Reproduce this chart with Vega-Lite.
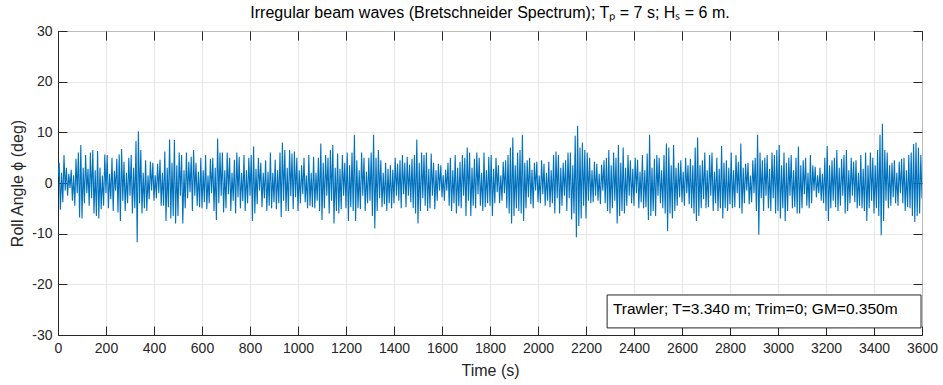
{
  "$schema": "https://vega.github.io/schema/vega-lite/v6.json",
  "width": 864,
  "height": 304,
  "autosize": "none",
  "padding": {"left": 58, "top": 31, "right": 21, "bottom": 50},
  "background": "white",
  "title": {
    "text": "Irregular beam waves (Bretschneider Spectrum); Tₚ = 7 s; Hₛ = 6 m.",
    "font": "Liberation Sans",
    "fontSize": 16,
    "fontWeight": "normal",
    "color": "#000000",
    "anchor": "middle",
    "offset": 3
  },
  "config": {
    "view": {"stroke": "#262626", "strokeWidth": 1},
    "axis": {
      "labelFont": "Liberation Sans",
      "titleFont": "Liberation Sans",
      "labelFontSize": 14,
      "titleFontSize": 16,
      "titleFontWeight": "normal",
      "labelColor": "#262626",
      "titleColor": "#262626",
      "domainColor": "#262626",
      "tickColor": "#262626",
      "gridColor": "#e2e2e2",
      "gridWidth": 0.8,
      "labelFlush": false,
      "labelOverlap": false
    }
  },
  "layer": [
    {
      "layer": [
        {
          "data": {"name": "roll", "values": [
{"t":0,"r":1.2},{"t":5,"r":4.0},{"t":10,"r":-5.3},{"t":15,"r":2.0},{"t":20,"r":-3.8},{"t":25,"r":5.5},{"t":30,"r":-1.5},{"t":35,"r":3.0},{"t":40,"r":-2.5},{"t":45,"r":1.8},{"t":50,"r":-1.0},{"t":55,"r":2.6},{"t":60,"r":-3.5},{"t":65,"r":1.5},{"t":70,"r":-4.5},{"t":75,"r":4.8},{"t":80,"r":-2.0},{"t":85,"r":6.0},{"t":90,"r":-6.8},{"t":95,"r":7.5},
{"t":100,"r":-7.0},{"t":105,"r":3.0},{"t":110,"r":-4.0},{"t":115,"r":5.5},{"t":120,"r":-2.0},{"t":125,"r":2.8},{"t":130,"r":-4.5},{"t":135,"r":6.0},{"t":140,"r":-3.0},{"t":145,"r":6.5},{"t":150,"r":-6.0},{"t":155,"r":2.5},{"t":160,"r":-6.5},{"t":165,"r":6.3},{"t":170,"r":-7.0},{"t":175,"r":3.0},{"t":180,"r":-5.2},{"t":185,"r":1.5},{"t":190,"r":-4.5},{"t":195,"r":5.6},
{"t":200,"r":-2.0},{"t":205,"r":5.5},{"t":210,"r":-5.0},{"t":215,"r":1.8},{"t":220,"r":-3.2},{"t":225,"r":5.0},{"t":230,"r":-5.5},{"t":235,"r":2.4},{"t":240,"r":-1.5},{"t":245,"r":4.8},{"t":250,"r":-5.8},{"t":255,"r":5.6},{"t":260,"r":-7.5},{"t":265,"r":6.7},{"t":270,"r":-3.5},{"t":275,"r":4.2},{"t":280,"r":-5.5},{"t":285,"r":2.0},{"t":290,"r":-4.0},{"t":295,"r":5.0},
{"t":300,"r":-2.5},{"t":305,"r":5.5},{"t":310,"r":-6.0},{"t":315,"r":3.0},{"t":320,"r":-5.0},{"t":325,"r":8.3},{"t":330,"r":-11.7},{"t":335,"r":10.2},{"t":340,"r":-4.0},{"t":345,"r":6.5},{"t":350,"r":-6.0},{"t":355,"r":2.0},{"t":360,"r":-5.0},{"t":365,"r":4.5},{"t":370,"r":-5.5},{"t":375,"r":1.5},{"t":380,"r":-3.2},{"t":385,"r":4.2},{"t":390,"r":-1.5},{"t":395,"r":4.0},
{"t":400,"r":-3.5},{"t":405,"r":1.5},{"t":410,"r":-3.0},{"t":415,"r":3.8},{"t":420,"r":-2.0},{"t":425,"r":4.6},{"t":430,"r":-4.5},{"t":435,"r":2.0},{"t":440,"r":-4.5},{"t":445,"r":6.2},{"t":450,"r":-7.5},{"t":455,"r":3.0},{"t":460,"r":-4.8},{"t":465,"r":8.6},{"t":470,"r":-7.0},{"t":475,"r":4.0},{"t":480,"r":-6.5},{"t":485,"r":8.5},{"t":490,"r":-8.0},{"t":495,"r":3.5},
{"t":500,"r":-6.5},{"t":505,"r":6.0},{"t":510,"r":-2.5},{"t":515,"r":5.5},{"t":520,"r":-8.0},{"t":525,"r":2.5},{"t":530,"r":-5.0},{"t":535,"r":6.0},{"t":540,"r":-3.0},{"t":545,"r":4.2},{"t":550,"r":-1.8},{"t":555,"r":5.2},{"t":560,"r":-5.5},{"t":565,"r":6.5},{"t":570,"r":-2.5},{"t":575,"r":4.0},{"t":580,"r":-4.5},{"t":585,"r":2.2},{"t":590,"r":-4.8},{"t":595,"r":5.0},
{"t":600,"r":-5.0},{"t":605,"r":2.5},{"t":610,"r":-3.8},{"t":615,"r":5.5},{"t":620,"r":-5.2},{"t":625,"r":1.5},{"t":630,"r":-4.0},{"t":635,"r":4.8},{"t":640,"r":-2.0},{"t":645,"r":5.0},{"t":650,"r":-5.5},{"t":655,"r":3.0},{"t":660,"r":-7.3},{"t":665,"r":8.8},{"t":670,"r":-4.0},{"t":675,"r":6.0},{"t":680,"r":-2.5},{"t":685,"r":6.0},{"t":690,"r":-5.8},{"t":695,"r":2.5},
{"t":700,"r":-5.0},{"t":705,"r":6.0},{"t":710,"r":-2.2},{"t":715,"r":5.0},{"t":720,"r":-5.5},{"t":725,"r":2.0},{"t":730,"r":-3.5},{"t":735,"r":4.6},{"t":740,"r":-6.0},{"t":745,"r":6.0},{"t":750,"r":-2.8},{"t":755,"r":5.2},{"t":760,"r":-5.0},{"t":765,"r":2.0},{"t":770,"r":-3.6},{"t":775,"r":5.5},{"t":780,"r":-5.5},{"t":785,"r":2.5},{"t":790,"r":-4.0},{"t":795,"r":5.0},
{"t":800,"r":-2.5},{"t":805,"r":5.5},{"t":810,"r":-7.5},{"t":815,"r":7.2},{"t":820,"r":-6.0},{"t":825,"r":2.8},{"t":830,"r":-4.2},{"t":835,"r":5.0},{"t":840,"r":-1.5},{"t":845,"r":4.0},{"t":850,"r":-4.8},{"t":855,"r":2.0},{"t":860,"r":-3.0},{"t":865,"r":4.5},{"t":870,"r":-5.5},{"t":875,"r":2.2},{"t":880,"r":-4.5},{"t":885,"r":6.0},{"t":890,"r":-5.0},{"t":895,"r":2.0},
{"t":900,"r":-3.8},{"t":905,"r":4.6},{"t":910,"r":-5.2},{"t":915,"r":2.5},{"t":920,"r":-4.0},{"t":925,"r":6.0},{"t":930,"r":-6.7},{"t":935,"r":8.0},{"t":940,"r":-3.5},{"t":945,"r":6.5},{"t":950,"r":-5.5},{"t":955,"r":3.0},{"t":960,"r":-5.5},{"t":965,"r":6.5},{"t":970,"r":-2.6},{"t":975,"r":5.8},{"t":980,"r":-5.2},{"t":985,"r":6.2},{"t":990,"r":-2.8},{"t":995,"r":5.0},
{"t":1000,"r":-5.5},{"t":1005,"r":2.5},{"t":1010,"r":-4.0},{"t":1015,"r":3.5},{"t":1020,"r":-2.2},{"t":1025,"r":5.0},{"t":1030,"r":-3.8},{"t":1035,"r":1.5},{"t":1040,"r":-5.0},{"t":1045,"r":5.5},{"t":1050,"r":-4.5},{"t":1055,"r":2.0},{"t":1060,"r":-4.8},{"t":1065,"r":5.2},{"t":1070,"r":-5.0},{"t":1075,"r":2.0},{"t":1080,"r":-3.5},{"t":1085,"r":5.0},{"t":1090,"r":-5.5},{"t":1095,"r":7.8},
{"t":1100,"r":-7.3},{"t":1105,"r":4.0},{"t":1110,"r":-5.0},{"t":1115,"r":5.5},{"t":1120,"r":-2.5},{"t":1125,"r":5.0},{"t":1130,"r":-6.0},{"t":1135,"r":6.5},{"t":1140,"r":-3.5},{"t":1145,"r":7.5},{"t":1150,"r":-8.0},{"t":1155,"r":3.0},{"t":1160,"r":-5.5},{"t":1165,"r":5.8},{"t":1170,"r":-6.0},{"t":1175,"r":2.8},{"t":1180,"r":-5.2},{"t":1185,"r":5.5},{"t":1190,"r":-2.5},{"t":1195,"r":4.0},
{"t":1200,"r":-5.0},{"t":1205,"r":6.0},{"t":1210,"r":-7.5},{"t":1215,"r":3.5},{"t":1220,"r":-4.8},{"t":1225,"r":6.0},{"t":1230,"r":-5.5},{"t":1235,"r":9.5},{"t":1240,"r":-7.5},{"t":1245,"r":4.5},{"t":1250,"r":-5.0},{"t":1255,"r":2.5},{"t":1260,"r":-5.2},{"t":1265,"r":6.0},{"t":1270,"r":-2.5},{"t":1275,"r":5.0},{"t":1280,"r":-5.5},{"t":1285,"r":2.2},{"t":1290,"r":-4.0},{"t":1295,"r":5.0},
{"t":1300,"r":-3.5},{"t":1305,"r":6.0},{"t":1310,"r":-6.5},{"t":1315,"r":9.5},{"t":1320,"r":-9.0},{"t":1325,"r":5.0},{"t":1330,"r":-5.5},{"t":1335,"r":6.5},{"t":1340,"r":-3.0},{"t":1345,"r":4.5},{"t":1350,"r":-4.8},{"t":1355,"r":2.0},{"t":1360,"r":-4.2},{"t":1365,"r":4.0},{"t":1370,"r":-5.5},{"t":1375,"r":2.8},{"t":1380,"r":-4.0},{"t":1385,"r":3.5},{"t":1390,"r":-5.0},{"t":1395,"r":2.6},
{"t":1400,"r":-4.0},{"t":1405,"r":5.0},{"t":1410,"r":-2.5},{"t":1415,"r":3.8},{"t":1420,"r":-3.5},{"t":1425,"r":4.5},{"t":1430,"r":-5.0},{"t":1435,"r":5.5},{"t":1440,"r":-2.2},{"t":1445,"r":4.0},{"t":1450,"r":-4.8},{"t":1455,"r":5.2},{"t":1460,"r":-2.5},{"t":1465,"r":3.6},{"t":1470,"r":-3.8},{"t":1475,"r":4.8},{"t":1480,"r":-5.0},{"t":1485,"r":5.5},{"t":1490,"r":-6.0},{"t":1495,"r":8.6},
{"t":1500,"r":-8.0},{"t":1505,"r":4.0},{"t":1510,"r":-5.5},{"t":1515,"r":6.0},{"t":1520,"r":-3.0},{"t":1525,"r":5.5},{"t":1530,"r":-4.5},{"t":1535,"r":6.0},{"t":1540,"r":-5.5},{"t":1545,"r":2.8},{"t":1550,"r":-5.0},{"t":1555,"r":5.8},{"t":1560,"r":-2.5},{"t":1565,"r":4.0},{"t":1570,"r":-5.2},{"t":1575,"r":2.5},{"t":1580,"r":-3.5},{"t":1585,"r":3.8},{"t":1590,"r":-1.5},{"t":1595,"r":3.5},
{"t":1600,"r":-2.8},{"t":1605,"r":1.5},{"t":1610,"r":-3.5},{"t":1615,"r":2.6},{"t":1620,"r":-1.5},{"t":1625,"r":4.0},{"t":1630,"r":-4.5},{"t":1635,"r":5.0},{"t":1640,"r":-5.5},{"t":1645,"r":2.5},{"t":1650,"r":-4.0},{"t":1655,"r":5.5},{"t":1660,"r":-6.0},{"t":1665,"r":3.0},{"t":1670,"r":-4.6},{"t":1675,"r":4.2},{"t":1680,"r":-5.0},{"t":1685,"r":5.5},{"t":1690,"r":-2.5},{"t":1695,"r":5.0},
{"t":1700,"r":-6.5},{"t":1705,"r":7.0},{"t":1710,"r":-3.5},{"t":1715,"r":6.0},{"t":1720,"r":-6.5},{"t":1725,"r":3.0},{"t":1730,"r":-4.5},{"t":1735,"r":4.8},{"t":1740,"r":-5.0},{"t":1745,"r":6.0},{"t":1750,"r":-2.2},{"t":1755,"r":5.0},{"t":1760,"r":-4.5},{"t":1765,"r":2.0},{"t":1770,"r":-5.5},{"t":1775,"r":6.0},{"t":1780,"r":-4.8},{"t":1785,"r":2.5},{"t":1790,"r":-4.0},{"t":1795,"r":5.2},
{"t":1800,"r":-4.5},{"t":1805,"r":5.5},{"t":1810,"r":-6.5},{"t":1815,"r":2.8},{"t":1820,"r":-4.0},{"t":1825,"r":5.0},{"t":1830,"r":-1.8},{"t":1835,"r":3.5},{"t":1840,"r":-4.0},{"t":1845,"r":1.5},{"t":1850,"r":-3.5},{"t":1855,"r":4.2},{"t":1860,"r":-2.0},{"t":1865,"r":4.5},{"t":1870,"r":-5.0},{"t":1875,"r":5.5},{"t":1880,"r":-6.0},{"t":1885,"r":7.0},{"t":1890,"r":-8.0},{"t":1895,"r":9.0},
{"t":1900,"r":-6.5},{"t":1905,"r":3.5},{"t":1910,"r":-5.0},{"t":1915,"r":6.0},{"t":1920,"r":-5.5},{"t":1925,"r":6.5},{"t":1930,"r":-6.0},{"t":1935,"r":9.5},{"t":1940,"r":-7.5},{"t":1945,"r":4.0},{"t":1950,"r":-5.0},{"t":1955,"r":4.5},{"t":1960,"r":-2.8},{"t":1965,"r":5.0},{"t":1970,"r":-4.2},{"t":1975,"r":2.6},{"t":1980,"r":-5.0},{"t":1985,"r":4.0},{"t":1990,"r":-1.5},{"t":1995,"r":4.2},
{"t":2000,"r":-3.8},{"t":2005,"r":1.5},{"t":2010,"r":-4.0},{"t":2015,"r":4.5},{"t":2020,"r":-2.2},{"t":2025,"r":3.8},{"t":2030,"r":-4.5},{"t":2035,"r":2.0},{"t":2040,"r":-3.5},{"t":2045,"r":4.2},{"t":2050,"r":-4.8},{"t":2055,"r":2.5},{"t":2060,"r":-4.0},{"t":2065,"r":5.5},{"t":2070,"r":-6.0},{"t":2075,"r":6.2},{"t":2080,"r":-3.0},{"t":2085,"r":5.5},{"t":2090,"r":-6.0},{"t":2095,"r":3.0},
{"t":2100,"r":-4.5},{"t":2105,"r":4.0},{"t":2110,"r":-2.5},{"t":2115,"r":4.5},{"t":2120,"r":-5.5},{"t":2125,"r":6.0},{"t":2130,"r":-3.0},{"t":2135,"r":6.0},{"t":2140,"r":-7.2},{"t":2145,"r":3.5},{"t":2150,"r":-6.0},{"t":2155,"r":9.3},{"t":2160,"r":-10.7},{"t":2165,"r":11.3},{"t":2170,"r":-8.5},{"t":2175,"r":7.0},{"t":2180,"r":-7.0},{"t":2185,"r":8.0},{"t":2190,"r":-4.5},{"t":2195,"r":6.5},
{"t":2200,"r":-7.0},{"t":2205,"r":6.0},{"t":2210,"r":-3.5},{"t":2215,"r":5.0},{"t":2220,"r":-4.0},{"t":2225,"r":2.5},{"t":2230,"r":-3.8},{"t":2235,"r":4.2},{"t":2240,"r":-2.5},{"t":2245,"r":3.8},{"t":2250,"r":-3.5},{"t":2255,"r":1.8},{"t":2260,"r":-4.2},{"t":2265,"r":3.6},{"t":2270,"r":-1.5},{"t":2275,"r":4.5},{"t":2280,"r":-4.0},{"t":2285,"r":5.0},{"t":2290,"r":-5.5},{"t":2295,"r":6.5},
{"t":2300,"r":-6.0},{"t":2305,"r":3.5},{"t":2310,"r":-5.0},{"t":2315,"r":6.0},{"t":2320,"r":-3.5},{"t":2325,"r":5.0},{"t":2330,"r":-8.0},{"t":2335,"r":7.5},{"t":2340,"r":-6.5},{"t":2345,"r":4.0},{"t":2350,"r":-5.5},{"t":2355,"r":7.0},{"t":2360,"r":-6.0},{"t":2365,"r":3.0},{"t":2370,"r":-4.5},{"t":2375,"r":5.5},{"t":2380,"r":-2.5},{"t":2385,"r":4.5},{"t":2390,"r":-4.0},{"t":2395,"r":2.8},
{"t":2400,"r":-4.5},{"t":2405,"r":5.0},{"t":2410,"r":-2.0},{"t":2415,"r":4.6},{"t":2420,"r":-5.0},{"t":2425,"r":2.2},{"t":2430,"r":-3.8},{"t":2435,"r":5.5},{"t":2440,"r":-5.0},{"t":2445,"r":2.5},{"t":2450,"r":-4.8},{"t":2455,"r":5.8},{"t":2460,"r":-7.3},{"t":2465,"r":9.5},{"t":2470,"r":-6.5},{"t":2475,"r":3.0},{"t":2480,"r":-5.5},{"t":2485,"r":4.8},{"t":2490,"r":-6.5},{"t":2495,"r":5.5},
{"t":2500,"r":-2.5},{"t":2505,"r":5.0},{"t":2510,"r":-4.0},{"t":2515,"r":2.5},{"t":2520,"r":-5.0},{"t":2525,"r":5.5},{"t":2530,"r":-6.0},{"t":2535,"r":7.8},{"t":2540,"r":-9.5},{"t":2545,"r":7.0},{"t":2550,"r":-6.0},{"t":2555,"r":3.5},{"t":2560,"r":-7.0},{"t":2565,"r":7.5},{"t":2570,"r":-5.5},{"t":2575,"r":3.0},{"t":2580,"r":-4.5},{"t":2585,"r":4.0},{"t":2590,"r":-2.8},{"t":2595,"r":4.5},
{"t":2600,"r":-3.8},{"t":2605,"r":2.2},{"t":2610,"r":-4.5},{"t":2615,"r":5.0},{"t":2620,"r":-2.0},{"t":2625,"r":3.5},{"t":2630,"r":-4.2},{"t":2635,"r":4.8},{"t":2640,"r":-5.0},{"t":2645,"r":3.5},{"t":2650,"r":-6.0},{"t":2655,"r":7.0},{"t":2660,"r":-7.5},{"t":2665,"r":9.0},{"t":2670,"r":-6.5},{"t":2675,"r":3.5},{"t":2680,"r":-5.0},{"t":2685,"r":4.5},{"t":2690,"r":-3.2},{"t":2695,"r":6.0},
{"t":2700,"r":-5.0},{"t":2705,"r":2.5},{"t":2710,"r":-4.8},{"t":2715,"r":5.5},{"t":2720,"r":-2.5},{"t":2725,"r":6.0},{"t":2730,"r":-5.5},{"t":2735,"r":2.2},{"t":2740,"r":-4.0},{"t":2745,"r":5.0},{"t":2750,"r":-5.5},{"t":2755,"r":2.8},{"t":2760,"r":-5.0},{"t":2765,"r":7.3},{"t":2770,"r":-7.0},{"t":2775,"r":4.0},{"t":2780,"r":-5.0},{"t":2785,"r":4.5},{"t":2790,"r":-5.5},{"t":2795,"r":3.0},
{"t":2800,"r":-4.2},{"t":2805,"r":6.0},{"t":2810,"r":-5.0},{"t":2815,"r":2.5},{"t":2820,"r":-4.8},{"t":2825,"r":5.5},{"t":2830,"r":-2.0},{"t":2835,"r":4.2},{"t":2840,"r":-5.0},{"t":2845,"r":7.8},{"t":2850,"r":-6.0},{"t":2855,"r":3.0},{"t":2860,"r":-4.0},{"t":2865,"r":3.8},{"t":2870,"r":-1.5},{"t":2875,"r":4.0},{"t":2880,"r":-4.2},{"t":2885,"r":1.5},{"t":2890,"r":-3.8},{"t":2895,"r":4.5},
{"t":2900,"r":-2.0},{"t":2905,"r":5.0},{"t":2910,"r":-5.5},{"t":2915,"r":9.5},{"t":2920,"r":-10.2},{"t":2925,"r":6.0},{"t":2930,"r":-3.0},{"t":2935,"r":4.5},{"t":2940,"r":-5.5},{"t":2945,"r":5.0},{"t":2950,"r":-2.5},{"t":2955,"r":5.5},{"t":2960,"r":-5.0},{"t":2965,"r":2.8},{"t":2970,"r":-5.5},{"t":2975,"r":6.0},{"t":2980,"r":-3.0},{"t":2985,"r":5.5},{"t":2990,"r":-6.0},{"t":2995,"r":6.5},
{"t":3000,"r":-5.5},{"t":3005,"r":7.5},{"t":3010,"r":-7.0},{"t":3015,"r":3.5},{"t":3020,"r":-5.0},{"t":3025,"r":6.0},{"t":3030,"r":-7.5},{"t":3035,"r":4.0},{"t":3040,"r":-5.5},{"t":3045,"r":5.0},{"t":3050,"r":-2.5},{"t":3055,"r":5.5},{"t":3060,"r":-5.0},{"t":3065,"r":2.5},{"t":3070,"r":-4.8},{"t":3075,"r":5.0},{"t":3080,"r":-6.0},{"t":3085,"r":7.2},{"t":3090,"r":-6.0},{"t":3095,"r":3.5},
{"t":3100,"r":-5.0},{"t":3105,"r":4.5},{"t":3110,"r":-2.2},{"t":3115,"r":5.0},{"t":3120,"r":-4.5},{"t":3125,"r":2.0},{"t":3130,"r":-5.0},{"t":3135,"r":5.5},{"t":3140,"r":-4.0},{"t":3145,"r":3.5},{"t":3150,"r":-1.5},{"t":3155,"r":3.2},{"t":3160,"r":-2.8},{"t":3165,"r":1.5},{"t":3170,"r":-2.0},{"t":3175,"r":3.0},{"t":3180,"r":-3.5},{"t":3185,"r":1.8},{"t":3190,"r":-4.0},{"t":3195,"r":5.0},
{"t":3200,"r":-5.5},{"t":3205,"r":7.3},{"t":3210,"r":-7.5},{"t":3215,"r":3.5},{"t":3220,"r":-5.0},{"t":3225,"r":4.5},{"t":3230,"r":-3.5},{"t":3235,"r":5.0},{"t":3240,"r":-4.8},{"t":3245,"r":6.5},{"t":3250,"r":-5.5},{"t":3255,"r":3.0},{"t":3260,"r":-4.5},{"t":3265,"r":4.8},{"t":3270,"r":-2.5},{"t":3275,"r":5.5},{"t":3280,"r":-6.0},{"t":3285,"r":6.5},{"t":3290,"r":-5.5},{"t":3295,"r":2.5},
{"t":3300,"r":-4.0},{"t":3305,"r":5.0},{"t":3310,"r":-2.5},{"t":3315,"r":4.2},{"t":3320,"r":-3.8},{"t":3325,"r":4.5},{"t":3330,"r":-5.0},{"t":3335,"r":2.0},{"t":3340,"r":-4.5},{"t":3345,"r":5.5},{"t":3350,"r":-5.0},{"t":3355,"r":2.8},{"t":3360,"r":-5.5},{"t":3365,"r":6.0},{"t":3370,"r":-7.5},{"t":3375,"r":3.5},{"t":3380,"r":-5.0},{"t":3385,"r":6.0},{"t":3390,"r":-3.5},{"t":3395,"r":5.0},
{"t":3400,"r":-6.0},{"t":3405,"r":3.5},{"t":3410,"r":-5.0},{"t":3415,"r":6.5},{"t":3420,"r":-6.5},{"t":3425,"r":9.5},{"t":3430,"r":-10.3},{"t":3435,"r":11.7},{"t":3440,"r":-7.5},{"t":3445,"r":6.5},{"t":3450,"r":-3.5},{"t":3455,"r":6.0},{"t":3460,"r":-5.0},{"t":3465,"r":3.5},{"t":3470,"r":-4.5},{"t":3475,"r":4.0},{"t":3480,"r":-2.8},{"t":3485,"r":4.5},{"t":3490,"r":-4.0},{"t":3495,"r":2.0},
{"t":3500,"r":-4.5},{"t":3505,"r":4.2},{"t":3510,"r":-2.0},{"t":3515,"r":4.8},{"t":3520,"r":-4.0},{"t":3525,"r":5.0},{"t":3530,"r":-5.5},{"t":3535,"r":2.5},{"t":3540,"r":-4.8},{"t":3545,"r":5.5},{"t":3550,"r":-5.0},{"t":3555,"r":6.0},{"t":3560,"r":-6.5},{"t":3565,"r":7.7},{"t":3570,"r":-7.7},{"t":3575,"r":8.0},{"t":3580,"r":-6.5},{"t":3585,"r":7.0},{"t":3590,"r":-6.0},{"t":3595,"r":5.5},{"t":3600,"r":-3.0}
          ]},
          "mark": {"type": "line", "color": "#0072BD", "strokeWidth": 1.1, "clip": true},
          "encoding": {
            "x": {"field": "t", "type": "quantitative",
                  "scale": {"domain": [0, 3600], "nice": false, "zero": false},
                  "axis": {"title": "Time (s)", "values": [0,200,400,600,800,1000,1200,1400,1600,1800,2000,2200,2400,2600,2800,3000,3200,3400,3600],
                           "labelExpr": "'' + datum.value",
                           "tickSize": -9, "labelPadding": 15, "titlePadding": 7, "grid": true}},
            "y": {"field": "r", "type": "quantitative",
                  "scale": {"domain": [-30, 30], "nice": false, "zero": false},
                  "axis": {"title": "Roll Angle ϕ (deg)", "values": [-30,-20,-10,0,10,20,30],
                           "labelExpr": "'' + datum.value",
                           "tickSize": -9, "labelPadding": 15, "titlePadding": 6, "grid": true}}
          }
        },
        {
          "data": {"values": [{}]},
          "mark": {"type": "rect", "fill": "white", "stroke": "#262626", "strokeWidth": 1},
          "encoding": {
            "x": {"datum": 2288}, "x2": {"datum": 3596},
            "y": {"datum": -28.6}, "y2": {"datum": -22.1}
          }
        },
        {
          "data": {"values": [{}]},
          "mark": {"type": "text", "align": "left", "baseline": "alphabetic", "font": "Liberation Sans", "fontSize": 15.5, "color": "#000000"},
          "encoding": {
            "x": {"datum": 2312}, "y": {"datum": -25.9},
            "text": {"value": "Trawler; T=3.340 m; Trim=0; GM=0.350m"}
          }
        }
      ]
    },
    {
      "data": {"values": [{}]},
      "mark": {"type": "point", "opacity": 0},
      "encoding": {
        "x": {"datum": 0, "type": "quantitative",
              "scale": {"domain": [0, 3600], "nice": false, "zero": false},
              "axis": {"orient": "top", "title": null, "labels": false, "grid": false, "domain": false,
                       "values": [0,200,400,600,800,1000,1200,1400,1600,1800,2000,2200,2400,2600,2800,3000,3200,3400,3600], "tickSize": -9}},
        "y": {"datum": 0, "type": "quantitative",
              "scale": {"domain": [-30, 30], "nice": false, "zero": false},
              "axis": {"orient": "right", "title": null, "labels": false, "grid": false, "domain": false,
                       "values": [-30,-20,-10,0,10,20,30], "tickSize": -9}}
      }
    }
  ],
  "resolve": {"scale": {"x": "independent", "y": "independent"}, "axis": {"x": "independent", "y": "independent"}}
}
